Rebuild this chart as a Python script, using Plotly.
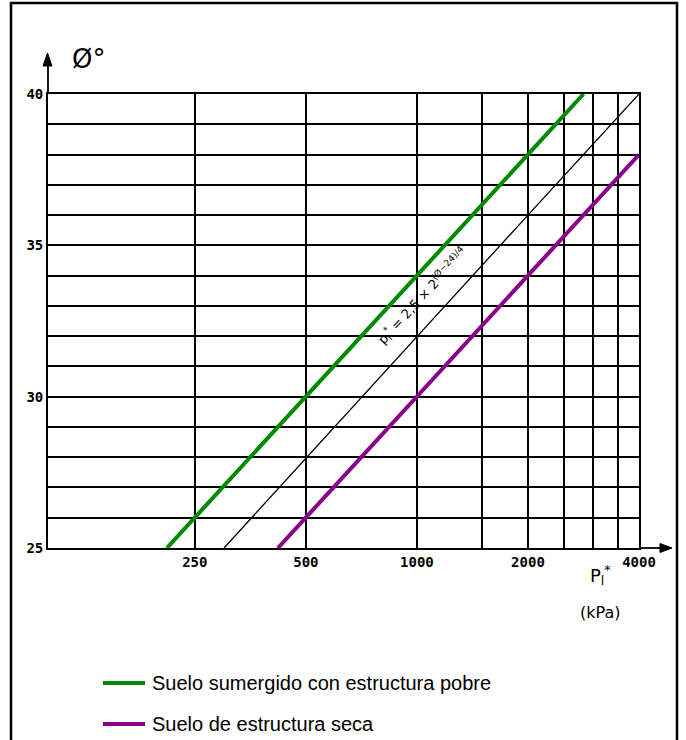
import numpy as np
import plotly.graph_objects as go

# ---- data ----
green_p = [210, 500, 1000, 2000, 2830]
green_phi = [25, 30, 34, 38, 40]
black_p = [300, 1000, 2000, 4000]
black_phi = [25, 32, 36, 40]
purple_p = [420, 1000, 2000, 4000]
purple_phi = [25, 30, 34, 38]

x_tick_vals = [250, 500, 1000, 2000, 4000]
x_tick_text = ["250", "500", "1000", "2000", "4000"]
x_minor_vals = [1500, 2500, 3000, 3500]
y_tick_vals = [25, 30, 35, 40]
y_tick_text = ["25", "30", "35", "40"]
y_minor_vals = [v for v in range(25, 41) if v % 5 != 0]

legend_names = ["Suelo sumergido con estructura pobre", "Suelo de estructura seca"]
GREEN = "#008a00"
PURPLE = "#8a008a"

fig = go.Figure()
fig.add_trace(go.Scatter(x=black_p, y=black_phi, mode="lines",
                         line=dict(color="black", width=1.3), showlegend=False))
fig.add_trace(go.Scatter(x=green_p, y=green_phi, mode="lines",
                         line=dict(color=GREEN, width=4), name=legend_names[0], showlegend=False))
fig.add_trace(go.Scatter(x=purple_p, y=purple_phi, mode="lines",
                         line=dict(color=PURPLE, width=4), name=legend_names[1], showlegend=False))

tickfont = dict(family="DejaVu Sans Mono", size=14, color="black", weight="bold")

fig.update_layout(
    width=686, height=740,
    margin=dict(l=48, r=47, t=94, b=192),
    paper_bgcolor="white", plot_bgcolor="white",
    xaxis=dict(type="log", range=[np.log10(100), np.log10(4000)],
               tickmode="array", tickvals=x_tick_vals, ticktext=x_tick_text,
               showgrid=True, gridcolor="black", gridwidth=1.5,
               minor=dict(tickmode="array", tickvals=x_minor_vals, showgrid=True,
                          gridcolor="black", gridwidth=1.5, ticks=""),
               showline=True, linecolor="black", linewidth=1.8, mirror=True,
               ticks="", tickfont=tickfont, zeroline=False),
    yaxis=dict(range=[25, 40], tickmode="array", tickvals=y_tick_vals, ticktext=y_tick_text,
               showgrid=True, gridcolor="black", gridwidth=1.5,
               minor=dict(tickmode="array", tickvals=y_minor_vals, showgrid=True,
                          gridcolor="black", gridwidth=1.5, ticks=""),
               showline=True, linecolor="black", linewidth=1.8, mirror=True,
               ticks="", tickfont=tickfont, zeroline=False),
    showlegend=False,
)

def px(xp):
    return (xp - 48) / 591.0

def py(yp):
    return (548 - yp) / 454.0

# outer frame
fig.add_shape(type="rect", xref="paper", yref="paper",
              x0=px(11), x1=px(677), y0=py(760), y1=py(3),
              line=dict(color="black", width=2.5), fillcolor="rgba(0,0,0,0)", layer="below")

# axis arrows (line + filled head)
fig.add_shape(type="line", xref="paper", yref="paper", x0=1, x1=px(662), y0=0, y1=0,
              line=dict(color="black", width=1.8))
fig.add_shape(type="path", xref="paper", yref="paper",
              path=f"M {px(672)},{py(548)} L {px(660)},{py(543.5)} L {px(660)},{py(552.5)} Z",
              fillcolor="black", line=dict(color="black", width=1))
fig.add_shape(type="line", xref="paper", yref="paper", x0=0, x1=0, y0=1, y1=py(63),
              line=dict(color="black", width=1.8))
fig.add_shape(type="path", xref="paper", yref="paper",
              path=f"M {px(47.5)},{py(53)} L {px(43)},{py(66)} L {px(52)},{py(66)} Z",
              fillcolor="black", line=dict(color="black", width=1))

# axis titles
fig.add_annotation(xref="paper", yref="paper", x=px(70), y=py(42), text="Ø°",
                   showarrow=False, font=dict(family="DejaVu Sans", size=26, color="black"))
fig.add_annotation(xref="paper", yref="paper", x=px(613), y=py(590),
                   text="P<sub>l</sub><sup>*</sup>", showarrow=False,
                   font=dict(family="DejaVu Sans", size=18, color="black"))
fig.add_annotation(xref="paper", yref="paper", x=px(622), y=py(624), text="(kPa)",
                   showarrow=False, font=dict(family="DejaVu Sans", size=16, color="black"))

# formula between the green and black lines
fig.add_annotation(x=np.log10(1036), y=33.33, xref="x", yref="y",
                   text="p<sub>l</sub><sup>*</sup> = 2,5 × 2<sup>(Ø−24)/4</sup>",
                   textangle=-47.5, showarrow=False,
                   font=dict(family="DejaVu Sans", size=13, color="black"))

# legend (manual)
for i, (name, col) in enumerate(zip(legend_names, [GREEN, PURPLE])):
    yl = 683 + i * 41
    fig.add_shape(type="line", xref="paper", yref="paper",
                  x0=px(103), x1=px(145), y0=py(yl), y1=py(yl),
                  line=dict(color=col, width=4))
    fig.add_annotation(xref="paper", yref="paper", x=px(150), y=py(yl),
                       xanchor="left", yanchor="middle", text=name, showarrow=False,
                       font=dict(family="Liberation Sans", size=20, color="black"))

fig.write_html("out.html")
